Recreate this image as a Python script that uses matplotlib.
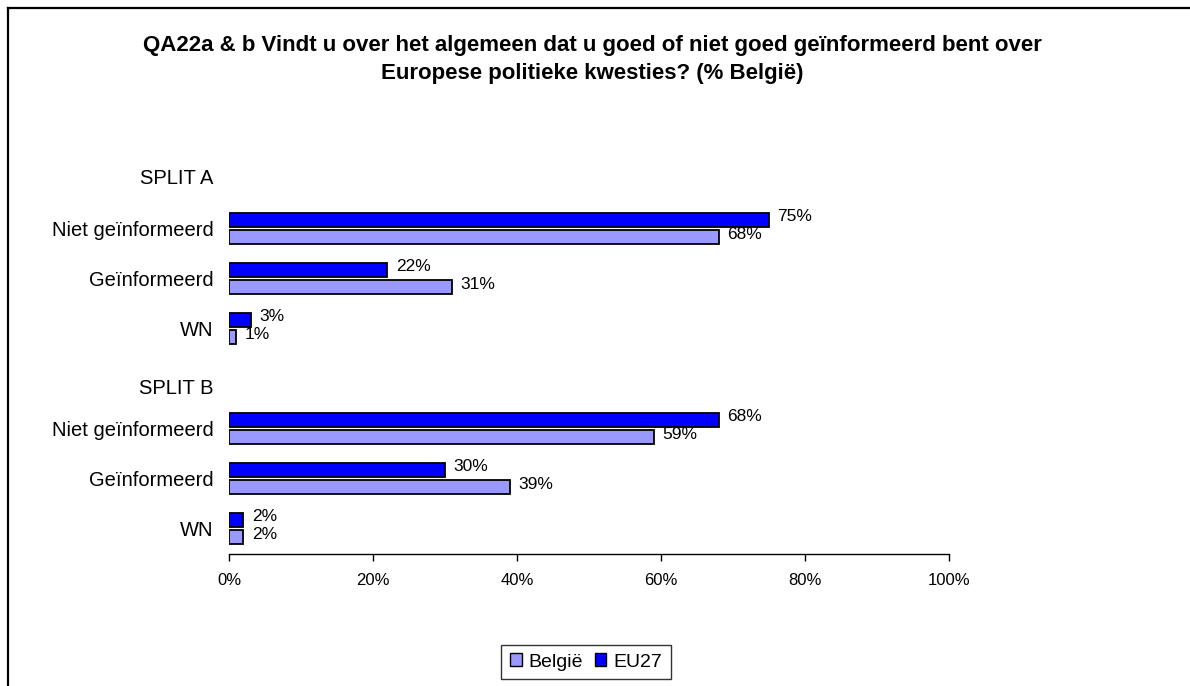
import matplotlib
matplotlib.use("Agg")
import matplotlib.pyplot as plt
from matplotlib.patches import Patch
from matplotlib.lines import Line2D
from matplotlib.transforms import ScaledTranslation

plt.rcParams['font.family'] = ['Liberation Sans', 'DejaVu Sans']

title = "QA22a & b Vindt u over het algemeen dat u goed of niet goed geïnformeerd bent over\nEuropese politieke kwesties? (% België)"
row_labels = ["SPLIT A", "Niet geïnformeerd", "Geïnformeerd", "WN",
              "SPLIT B", "Niet geïnformeerd", "Geïnformeerd", "WN"]
# None = header row without bars
eu27 = [None, 75, 22, 3, None, 68, 30, 2]
belgie = [None, 68, 31, 1, None, 59, 39, 2]
series_names = ["België", "EU27"]
col_belgie = "#9999FF"
col_eu27 = "#0000FF"
xticks = [0, 20, 40, 60, 80, 100]

fig = plt.figure(figsize=(11.9, 6.86), dpi=100)
ax = fig.add_axes([229/1190, 1-553.5/686, 720/1190, 400/686])

bh = 0.28
off = 0.175
for i, (e, b) in enumerate(zip(eu27, belgie)):
    if e is None:
        continue
    ax.barh(i - off, e, height=bh, color=col_eu27, edgecolor='black', linewidth=1.3)
    ax.barh(i + off, b, height=bh, color=col_belgie, edgecolor='black', linewidth=1.3)
    ax.annotate(f"{e}%", (e, i - off), xytext=(6, 2), textcoords='offset points',
                va='center', ha='left', fontsize=12.5)
    ax.annotate(f"{b}%", (b, i + off), xytext=(6, 2), textcoords='offset points',
                va='center', ha='left', fontsize=12.5)

ax.set_xlim(0, 100)
ax.set_ylim(len(row_labels) - 0.5, -0.5)
ax.set_xticks(xticks)
ax.set_xticklabels([f"{t}%" for t in xticks], fontsize=12)
ax.set_yticks(range(len(row_labels)))
ax.set_yticklabels(row_labels, fontsize=14.5)
ax.tick_params(axis='y', length=0, pad=11)
ax.tick_params(axis='x', length=5, width=1, direction='out', pad=9)
for s in ['top', 'right', 'left']:
    ax.spines[s].set_visible(False)
ax.spines['bottom'].set_linewidth(1)

# shift SPLIT labels as in the reference
lbls = ax.get_yticklabels()
lbls[0].set_transform(lbls[0].get_transform() + ScaledTranslation(0, 2/100, fig.dpi_scale_trans))
lbls[4].set_transform(lbls[4].get_transform() + ScaledTranslation(0, -8/100, fig.dpi_scale_trans))

fig.text(0.4975, 1-59.5/686, title, ha='center', va='center', fontsize=16,
         fontweight='bold', linespacing=1.5)

handles = [Patch(facecolor=col_belgie, edgecolor='black', label=series_names[0]),
           Patch(facecolor=col_eu27, edgecolor='black', label=series_names[1])]
leg = fig.legend(handles=handles, loc='center', bbox_to_anchor=(586/1190, 1-662/686),
                 ncol=2, fontsize=14, frameon=True, fancybox=False,
                 handlelength=0.6, handleheight=0.6, handletextpad=0.35,
                 columnspacing=0.6, borderpad=0.45)
leg.get_frame().set_edgecolor('black')
leg.get_frame().set_linewidth(1)

# figure frame (left and top visible)
fig.add_artist(Line2D([8/1190, 8/1190], [0, 1-8/686], color='black', linewidth=1.6,
                      transform=fig.transFigure))
fig.add_artist(Line2D([8/1190, 1], [1-8/686, 1-8/686], color='black', linewidth=1.6,
                      transform=fig.transFigure))

fig.savefig("out.png", dpi=100)
